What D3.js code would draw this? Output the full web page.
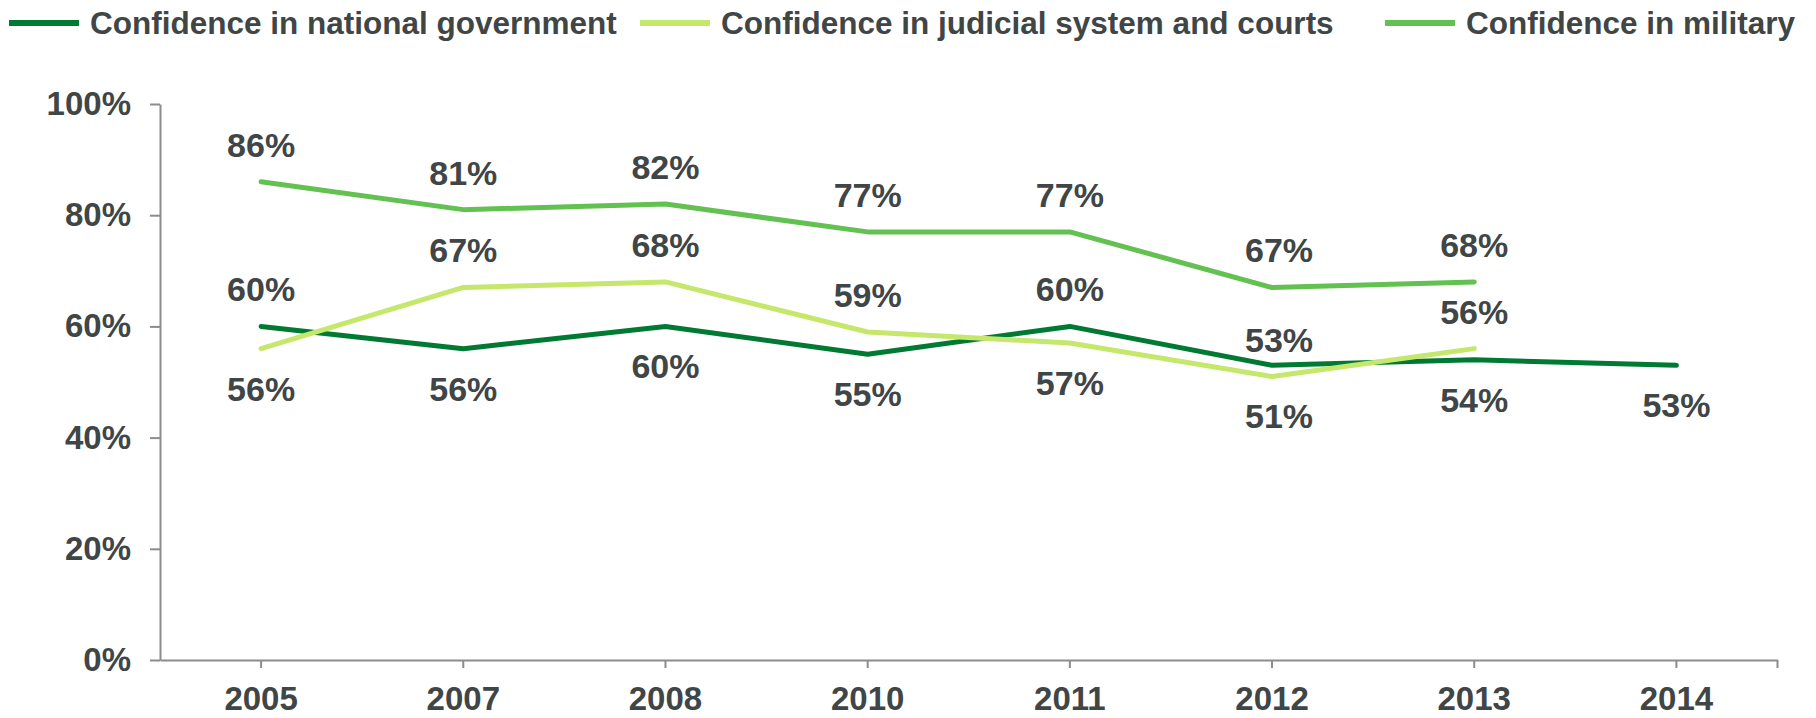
<!DOCTYPE html>
<html>
<head>
<meta charset="utf-8">
<script src="https://cdn.jsdelivr.net/npm/d3@7"></script>
<style>
  html, body { margin: 0; padding: 0; background: #ffffff; }
  svg { display: block; }
  text { font-family: "Liberation Sans", Arial, sans-serif; font-weight: bold; fill: #404546; }
</style>
</head>
<body>
<svg id="chart" width="1816" height="718"></svg>
<script>
// ---- data ----
const years = ["2005", "2007", "2008", "2010", "2011", "2012", "2013", "2014"];
const seriesNames = ["Confidence in national government", "Confidence in judicial system and courts", "Confidence in military"];
const governmentValues = [60, 56, 60, 55, 60, 53, 54, 53];
const judicialValues = [56, 67, 68, 59, 57, 51, 56, null];
const militaryValues = [86, 81, 82, 77, 77, 67, 68, null];
const yTickValues = [0, 20, 40, 60, 80, 100];

// ---- layout / style (not data) ----
const colors = ["#007a33", "#c5e86c", "#62c151"];
// label placement: a = above, b = below, c = close above
const labelSides = [
  ["a", "b", "b", "b", "a", "c", "b", "b"],
  ["b", "a", "a", "a", "b", "b", "a", null],
  ["a", "a", "a", "a", "a", "a", "a", null]
];
const labelShiftYear = "2012";
const plotLeft = 160, plotRight = 1777.5, plotTop = 104, plotBottom = 660;

const svg = d3.select("#chart");

const x = d3.scaleBand().domain(years).range([plotLeft, plotRight]).padding(0);
const y = d3.scaleLinear().domain([0, 100]).range([plotBottom, plotTop]);
const cx = d => x(d) + x.bandwidth() / 2;

const axisColor = "#8c8c8c";

// Y axis
const yAxis = svg.append("g").attr("transform", `translate(${plotLeft},0)`)
  .call(d3.axisLeft(y).tickValues(yTickValues).tickFormat(d => d + "%").tickSize(10).tickSizeOuter(0).tickPadding(19));
yAxis.select(".domain").attr("stroke", axisColor).attr("stroke-width", 2);
yAxis.selectAll(".tick line").attr("stroke", axisColor).attr("stroke-width", 2);
yAxis.selectAll(".tick text").style("font-size", "33px").style("font-family", "'Liberation Sans', Arial, sans-serif")
  .style("font-weight", "bold").attr("fill", "#404546");

// X axis
const xAxis = svg.append("g").attr("transform", `translate(0,${plotBottom})`)
  .call(d3.axisBottom(x).tickSize(8).tickSizeOuter(0).tickPadding(19));
xAxis.select(".domain").attr("stroke", axisColor).attr("stroke-width", 2);
xAxis.selectAll(".tick line").attr("stroke", axisColor).attr("stroke-width", 2);
xAxis.selectAll(".tick text").style("font-size", "33px").style("font-family", "'Liberation Sans', Arial, sans-serif")
  .style("font-weight", "bold").attr("fill", "#404546");
xAxis.append("line").attr("x1", plotRight).attr("x2", plotRight).attr("y1", 0).attr("y2", 8)
  .attr("stroke", axisColor).attr("stroke-width", 2);

// Lines
const allSeries = [governmentValues, judicialValues, militaryValues];
const line = d3.line()
  .defined(d => d.v !== null)
  .x(d => cx(d.year))
  .y(d => y(d.v));

allSeries.forEach((vals, i) => {
  const pts = years.map((yr, j) => ({ year: yr, v: vals[j] }));
  svg.append("path").datum(pts)
    .attr("fill", "none").attr("stroke", colors[i]).attr("stroke-width", 5)
    .attr("stroke-linejoin", "round").attr("stroke-linecap", "round")
    .attr("d", line);
});

// Labels
const sideOffset = { a: -37, b: 40, c: -25 };
allSeries.forEach((vals, i) => {
  const pts = years.map((yr, j) => ({ year: yr, v: vals[j], side: labelSides[i][j] })).filter(d => d.v !== null);
  svg.append("g").selectAll("text").data(pts).enter().append("text")
    .attr("x", d => cx(d.year) + (d.year === labelShiftYear ? 7 : 0))
    .attr("y", d => y(d.v) + sideOffset[d.side])
    .attr("text-anchor", "middle")
    .attr("dominant-baseline", "central")
    .style("font-size", "34px")
    .text(d => d.v + "%");
});

// Legend
const legendItems = [
  { name: seriesNames[0], color: colors[0], x0: 9 },
  { name: seriesNames[1], color: colors[1], x0: 640 },
  { name: seriesNames[2], color: colors[2], x0: 1385 }
];
const lg = svg.append("g");
legendItems.forEach(it => {
  lg.append("line").attr("x1", it.x0).attr("x2", it.x0 + 70).attr("y1", 23).attr("y2", 23)
    .attr("stroke", it.color).attr("stroke-width", 6);
  lg.append("text").attr("x", it.x0 + 81).attr("y", 23).attr("dominant-baseline", "central")
    .style("font-size", "31.5px").text(it.name);
});
</script>
</body>
</html>
